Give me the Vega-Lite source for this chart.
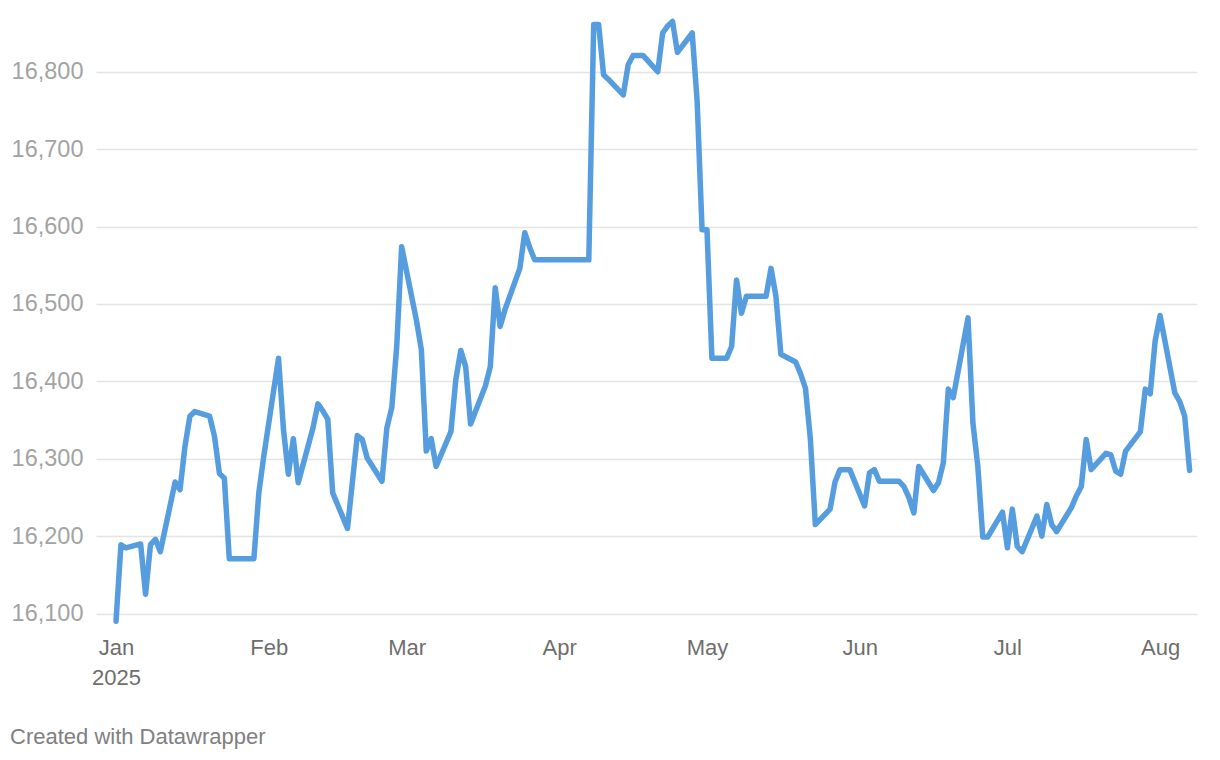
{
  "$schema": "https://vega.github.io/schema/vega-lite/v6.json",
  "autosize": {"type": "none"},
  "width": 1101,
  "height": 608,
  "padding": {"left": 96, "top": 18, "right": 23, "bottom": 134},
  "background": "white",
  "config": {"font": "Liberation Sans", "view": {"stroke": null}},
  "title": {
    "text": "Created with Datawrapper",
    "orient": "bottom",
    "anchor": "start",
    "frame": "group",
    "dx": -86,
    "offset": 39,
    "fontSize": 22,
    "fontWeight": "normal",
    "color": "#808080"
  },
  "data": {
    "values": [
      {"date": "2025-01-01", "value": 16090},
      {"date": "2025-01-02", "value": 16189},
      {"date": "2025-01-03", "value": 16185},
      {"date": "2025-01-06", "value": 16190},
      {"date": "2025-01-07", "value": 16125},
      {"date": "2025-01-08", "value": 16189},
      {"date": "2025-01-09", "value": 16196},
      {"date": "2025-01-10", "value": 16180},
      {"date": "2025-01-13", "value": 16270},
      {"date": "2025-01-14", "value": 16260},
      {"date": "2025-01-15", "value": 16316},
      {"date": "2025-01-16", "value": 16355},
      {"date": "2025-01-17", "value": 16361},
      {"date": "2025-01-20", "value": 16355},
      {"date": "2025-01-21", "value": 16329},
      {"date": "2025-01-22", "value": 16281},
      {"date": "2025-01-23", "value": 16275},
      {"date": "2025-01-24", "value": 16171},
      {"date": "2025-01-27", "value": 16171},
      {"date": "2025-01-28", "value": 16171},
      {"date": "2025-01-29", "value": 16171},
      {"date": "2025-01-30", "value": 16256},
      {"date": "2025-01-31", "value": 16303},
      {"date": "2025-02-03", "value": 16430},
      {"date": "2025-02-04", "value": 16338},
      {"date": "2025-02-05", "value": 16280},
      {"date": "2025-02-06", "value": 16326},
      {"date": "2025-02-07", "value": 16269},
      {"date": "2025-02-10", "value": 16340},
      {"date": "2025-02-11", "value": 16371},
      {"date": "2025-02-12", "value": 16362},
      {"date": "2025-02-13", "value": 16351},
      {"date": "2025-02-14", "value": 16256},
      {"date": "2025-02-17", "value": 16210},
      {"date": "2025-02-18", "value": 16270},
      {"date": "2025-02-19", "value": 16330},
      {"date": "2025-02-20", "value": 16325},
      {"date": "2025-02-21", "value": 16301},
      {"date": "2025-02-24", "value": 16271},
      {"date": "2025-02-25", "value": 16340},
      {"date": "2025-02-26", "value": 16366},
      {"date": "2025-02-27", "value": 16445},
      {"date": "2025-02-28", "value": 16574},
      {"date": "2025-03-03", "value": 16479},
      {"date": "2025-03-04", "value": 16441},
      {"date": "2025-03-05", "value": 16310},
      {"date": "2025-03-06", "value": 16326},
      {"date": "2025-03-07", "value": 16290},
      {"date": "2025-03-10", "value": 16335},
      {"date": "2025-03-11", "value": 16402},
      {"date": "2025-03-12", "value": 16440},
      {"date": "2025-03-13", "value": 16419},
      {"date": "2025-03-14", "value": 16345},
      {"date": "2025-03-17", "value": 16394},
      {"date": "2025-03-18", "value": 16419},
      {"date": "2025-03-19", "value": 16521},
      {"date": "2025-03-20", "value": 16471},
      {"date": "2025-03-21", "value": 16493},
      {"date": "2025-03-24", "value": 16546},
      {"date": "2025-03-25", "value": 16592},
      {"date": "2025-03-26", "value": 16573},
      {"date": "2025-03-27", "value": 16557},
      {"date": "2025-03-28", "value": 16557},
      {"date": "2025-03-31", "value": 16557},
      {"date": "2025-04-01", "value": 16557},
      {"date": "2025-04-02", "value": 16557},
      {"date": "2025-04-03", "value": 16557},
      {"date": "2025-04-04", "value": 16557},
      {"date": "2025-04-07", "value": 16557},
      {"date": "2025-04-08", "value": 16861},
      {"date": "2025-04-09", "value": 16861},
      {"date": "2025-04-10", "value": 16796},
      {"date": "2025-04-11", "value": 16790},
      {"date": "2025-04-14", "value": 16770},
      {"date": "2025-04-15", "value": 16809},
      {"date": "2025-04-16", "value": 16821},
      {"date": "2025-04-17", "value": 16821},
      {"date": "2025-04-18", "value": 16821},
      {"date": "2025-04-21", "value": 16800},
      {"date": "2025-04-22", "value": 16850},
      {"date": "2025-04-23", "value": 16859},
      {"date": "2025-04-24", "value": 16865},
      {"date": "2025-04-25", "value": 16825},
      {"date": "2025-04-28", "value": 16850},
      {"date": "2025-04-29", "value": 16762},
      {"date": "2025-04-30", "value": 16596},
      {"date": "2025-05-01", "value": 16596},
      {"date": "2025-05-02", "value": 16430},
      {"date": "2025-05-05", "value": 16430},
      {"date": "2025-05-06", "value": 16445},
      {"date": "2025-05-07", "value": 16531},
      {"date": "2025-05-08", "value": 16488},
      {"date": "2025-05-09", "value": 16510},
      {"date": "2025-05-12", "value": 16510},
      {"date": "2025-05-13", "value": 16510},
      {"date": "2025-05-14", "value": 16546},
      {"date": "2025-05-15", "value": 16510},
      {"date": "2025-05-16", "value": 16435},
      {"date": "2025-05-19", "value": 16425},
      {"date": "2025-05-20", "value": 16410},
      {"date": "2025-05-21", "value": 16391},
      {"date": "2025-05-22", "value": 16325},
      {"date": "2025-05-23", "value": 16215},
      {"date": "2025-05-26", "value": 16235},
      {"date": "2025-05-27", "value": 16270},
      {"date": "2025-05-28", "value": 16286},
      {"date": "2025-05-29", "value": 16286},
      {"date": "2025-05-30", "value": 16286},
      {"date": "2025-06-02", "value": 16239},
      {"date": "2025-06-03", "value": 16282},
      {"date": "2025-06-04", "value": 16286},
      {"date": "2025-06-05", "value": 16271},
      {"date": "2025-06-06", "value": 16271},
      {"date": "2025-06-09", "value": 16271},
      {"date": "2025-06-10", "value": 16264},
      {"date": "2025-06-11", "value": 16250},
      {"date": "2025-06-12", "value": 16230},
      {"date": "2025-06-13", "value": 16290},
      {"date": "2025-06-16", "value": 16259},
      {"date": "2025-06-17", "value": 16269},
      {"date": "2025-06-18", "value": 16295},
      {"date": "2025-06-19", "value": 16390},
      {"date": "2025-06-20", "value": 16379},
      {"date": "2025-06-23", "value": 16482},
      {"date": "2025-06-24", "value": 16346},
      {"date": "2025-06-25", "value": 16290},
      {"date": "2025-06-26", "value": 16199},
      {"date": "2025-06-27", "value": 16199},
      {"date": "2025-06-30", "value": 16231},
      {"date": "2025-07-01", "value": 16185},
      {"date": "2025-07-02", "value": 16235},
      {"date": "2025-07-03", "value": 16187},
      {"date": "2025-07-04", "value": 16180},
      {"date": "2025-07-07", "value": 16226},
      {"date": "2025-07-08", "value": 16200},
      {"date": "2025-07-09", "value": 16241},
      {"date": "2025-07-10", "value": 16215},
      {"date": "2025-07-11", "value": 16206},
      {"date": "2025-07-14", "value": 16237},
      {"date": "2025-07-15", "value": 16252},
      {"date": "2025-07-16", "value": 16264},
      {"date": "2025-07-17", "value": 16325},
      {"date": "2025-07-18", "value": 16286},
      {"date": "2025-07-21", "value": 16307},
      {"date": "2025-07-22", "value": 16305},
      {"date": "2025-07-23", "value": 16284},
      {"date": "2025-07-24", "value": 16280},
      {"date": "2025-07-25", "value": 16310},
      {"date": "2025-07-28", "value": 16335},
      {"date": "2025-07-29", "value": 16390},
      {"date": "2025-07-30", "value": 16384},
      {"date": "2025-07-31", "value": 16452},
      {"date": "2025-08-01", "value": 16485},
      {"date": "2025-08-04", "value": 16385},
      {"date": "2025-08-05", "value": 16374},
      {"date": "2025-08-06", "value": 16355},
      {"date": "2025-08-07", "value": 16285}
    ]
  },
  "mark": {
    "type": "line",
    "color": "#569de0",
    "strokeWidth": 5.5,
    "strokeJoin": "round",
    "strokeCap": "round"
  },
  "encoding": {
    "x": {
      "field": "date",
      "type": "temporal",
      "scale": {
        "type": "utc",
        "domain": [
          {"year": 2024, "month": 12, "date": 27, "hours": 22, "minutes": 30, "utc": true},
          {"year": 2025, "month": 8, "date": 8, "hours": 12, "utc": true}
        ]
      },
      "axis": {
        "title": null,
        "domain": false,
        "ticks": false,
        "grid": false,
        "values": [
          {"year": 2025, "month": 1, "date": 1, "utc": true},
          {"year": 2025, "month": 2, "date": 1, "utc": true},
          {"year": 2025, "month": 3, "date": 1, "utc": true},
          {"year": 2025, "month": 4, "date": 1, "utc": true},
          {"year": 2025, "month": 5, "date": 1, "utc": true},
          {"year": 2025, "month": 6, "date": 1, "utc": true},
          {"year": 2025, "month": 7, "date": 1, "utc": true},
          {"year": 2025, "month": 8, "date": 1, "utc": true}
        ],
        "labelExpr": "utcFormat(datum.value, '%b') == 'Jan' ? ['Jan', '2025'] : utcFormat(datum.value, '%b')",
        "labelFontSize": 22,
        "labelColor": "#6e6e6e",
        "labelPadding": 11,
        "labelLineHeight": 30,
        "labelFlush": false,
        "labelOverlap": false
      }
    },
    "y": {
      "field": "value",
      "type": "quantitative",
      "scale": {"domain": [16084, 16869.4], "nice": false, "zero": false},
      "axis": {
        "title": null,
        "domain": false,
        "ticks": false,
        "values": [16100, 16200, 16300, 16400, 16500, 16600, 16700, 16800],
        "format": ",d",
        "labelFontSize": 23.5,
        "labelColor": "#a3a3a3",
        "labelPadding": 13,
        "gridColor": "#e4e4e4",
        "gridWidth": 1.5
      }
    }
  }
}
